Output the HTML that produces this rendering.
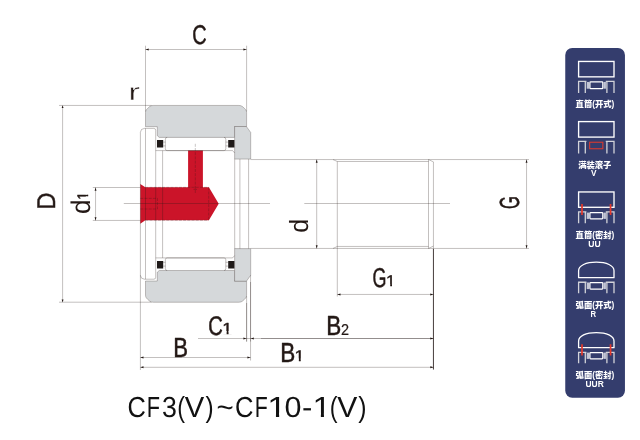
<!DOCTYPE html>
<html lang="zh-CN">
<head>
<meta charset="utf-8">
<title>CF3(V)~CF10-1(V)</title>
<style>
html,body{margin:0;padding:0;background:#fff;}
body{width:640px;height:440px;overflow:hidden;}
svg{display:block;will-change:transform;}
</style>
</head>
<body>
<svg width="640" height="440" viewBox="0 0 640 440">
<rect width="640" height="440" fill="#fff"/>
<path fill="#cb1429" d="M140.3 184 L145.3 187.2 H188.1 V150.4 H202.9 V187.2 H208.9 L218.7 203.7 L208.9 220.3 H145.3 L140.3 223.7 Z"/>
<path d="M145.5 112.6 C145.5 110.6 146.3 109.6 147.6 108.4 L149.6 106.6 C150.6 105.8 151.6 105.45 153.2 105.45 L238.9 105.45 C240.5 105.45 241.5 105.8 242.5 106.6 L244.5 108.4 C245.8 109.6 246.6 110.6 246.6 112.6 L246.6 126.5 L234.6 126.5 L234.6 137.4 L159.2 137.4 L157.3 135.7 L157.3 126.7 L145.5 126.7 Z" fill="#d5d8da" stroke="#231815" stroke-width="0.26" stroke-linejoin="round"/>
<path d="M145.5 295.1 C145.5 297.1 146.3 298.1 147.6 299.3 L149.6 301.1 C150.6 301.9 151.6 302.25 153.2 302.25 L238.9 302.25 C240.5 302.25 241.5 301.9 242.5 301.1 L244.5 299.3 C245.8 298.1 246.6 297.1 246.6 295.1 L246.6 281.2 L234.6 281.2 L234.6 270.5 L159.2 270.5 L157.3 272.2 L157.3 281 L145.5 281 Z" fill="#d5d8da" stroke="#231815" stroke-width="0.26" stroke-linejoin="round"/>
<path d="M234.6 126.5 L246.4 126.5 L250.7 132.4 L250.7 159.1 L234.6 159.1 Z" fill="#d5d8da" stroke="#231815" stroke-width="0.26" stroke-linejoin="round"/>
<path d="M234.6 281.2 L246.4 281.2 L250.7 275.3 L250.7 248.6 L234.6 248.6 Z" fill="#d5d8da" stroke="#231815" stroke-width="0.26" stroke-linejoin="round"/>
<path fill="none" stroke="#231815" stroke-width="0.28" d="M140.4 275.2 V132.3 Q140.6 128.6 144.4 128.4 H153.8 Q155.7 128.4 155.7 130.3 V277.3 Q155.7 279.2 153.8 279.2 H144.4 Q140.6 279 140.4 275.3 Z M145.5 128.4 L145.5 279.2 M162.6 150.6 L162.6 257.9 M155.7 150.6 L232.6 150.6 M155.7 257.9 L232.6 257.9 M232.6 150.6 L234.6 152.9 M232.6 257.9 L234.6 255.6 M234.7 159.1 L234.7 248.6 M239.9 159.1 L239.9 248.6 M248.6 159.1 L248.6 248.6 M167.15 137.4 Q165.35 137.4 165.35 139.2 L165.35 148.8 Q165.35 150.6 167.15 150.6 L224 150.6 Q225.8 150.6 225.8 148.8 L225.8 139.2 Q225.8 137.4 224 137.4 M163.2 142.1 L165.35 142.1 M225.8 142.1 L228.2 142.1 M163.2 145.9 L165.35 145.9 M225.8 145.9 L228.2 145.9 M167.15 270.5 Q165.35 270.5 165.35 268.7 L165.35 259.7 Q165.35 257.9 167.15 257.9 L224 257.9 Q225.8 257.9 225.8 259.7 L225.8 268.7 Q225.8 270.5 224 270.5 M163.2 262.3 L165.35 262.3 M225.8 262.3 L228.2 262.3 M163.2 266.1 L165.35 266.1 M225.8 266.1 L228.2 266.1 M250.7 159.55 L529 159.55 M250.7 248.45 L529 248.45 M337.3 161.5 L428.5 161.5 M337.3 246.45 L428.5 246.45 M333 159.55 L337.3 161.5 M333 248.45 L337.3 246.45 M428.5 159.55 L433.45 161.9 M428.5 248.45 L433.45 246.05 M428.5 159.55 L428.5 248.45 M433.45 161.9 L433.45 369.5 M337.3 161.5 L337.3 296.5 M123.8 203.5 L270 203.5 M304.3 203.5 L450 203.5 M145.5 45.7 L145.5 111.5 M246.6 45.7 L246.6 111.5 M145.5 49.5 L246.6 49.5 M59 105.45 L151.5 105.45 M59 302.2 L151.5 302.2 M62.6 105.45 L62.6 302.2 M92.8 187.5 L140.4 187.5 M92.8 220.45 L140.4 220.45 M95.55 187.5 L95.55 220.45 M316.7 159.55 L316.7 248.45 M526.55 159.55 L526.55 248.45 M337.3 294.45 L433.45 294.45 M198 338.5 L433.45 338.5 M140.4 357.5 L250.55 357.5 M140.4 367.3 L433.45 367.3 M140.4 275.2 L140.4 370 M246.6 296.2 L246.6 341.7 M250.55 275.3 L250.55 360.5"/>
<path fill="none" stroke="#231815" stroke-width="0.75" d="M433.45 249 V369.5"/>
<path fill="none" stroke="#231815" stroke-width="0.3" d="M250.55 282 V341.5 M261 338.5 H433 M246.6 303 V341.5"/>
<path fill="none" stroke="#231815" stroke-width="0.25" stroke-dasharray="3 1.2" d="M195.3 143.8 V193 M208.7 187.3 V220.3 M140.3 198.4 H157.5 V209 H140.3 M145.3 187.3 H208.7 M145.3 220.3 H208.7"/>
<path fill="none" stroke="#231815" stroke-width="0.28" d="M193.5 189.4 H197"/>
<rect x="157" y="140" width="6.2" height="7.5" fill="#1f1a19"/>
<rect x="228.2" y="140" width="6.2" height="7.5" fill="#1f1a19"/>
<rect x="157" y="261" width="6.2" height="7.5" fill="#1f1a19"/>
<rect x="228.2" y="261" width="6.2" height="7.5" fill="#1f1a19"/>
<path fill="#231815" d="M145.5 49.5 L148.7 48.55 L148.7 50.45Z M246.6 49.5 L243.4 48.55 L243.4 50.45Z M62.6 105.45 L61.65 108.05 L63.55 108.05Z M62.6 302.2 L61.65 299.6 L63.55 299.6Z M95.55 187.5 L94.6 190.7 L96.5 190.7Z M95.55 220.45 L94.6 217.25 L96.5 217.25Z M316.7 159.55 L315.75 162.75 L317.65 162.75Z M316.7 248.45 L315.75 245.25 L317.65 245.25Z M526.55 159.55 L525.6 162.75 L527.5 162.75Z M526.55 248.45 L525.6 245.25 L527.5 245.25Z M337.3 294.45 L340.5 293.5 L340.5 295.4Z M433.45 294.45 L430.25 293.5 L430.25 295.4Z M246.6 338.5 L243.4 337.55 L243.4 339.45Z M250.6 338.5 L253.8 337.55 L253.8 339.45Z M433.5 338.5 L430.3 337.55 L430.3 339.45Z M140.3 357.5 L143.5 356.55 L143.5 358.45Z M250.6 357.5 L247.4 356.55 L247.4 358.45Z M140.3 367.3 L143.5 366.35 L143.5 368.25Z M433.5 367.3 L430.3 366.35 L430.3 368.25Z"/>
<clipPath id="k1" clipPathUnits="userSpaceOnUse"><path clip-rule="evenodd" d="M-700 -700 H700 V700 H-700 Z M-199.35 85.82 H-196.2 V89.48 H-199.35 Z M-194.7 85.82 H-191.71 V89.48 H-194.7 Z"/></clipPath><clipPath id="k2" clipPathUnits="userSpaceOnUse"><path clip-rule="evenodd" d="M-700 -700 H700 V700 H-700 Z M386.43 283.91 H390.24 V287.57 H386.43 Z M392 283.91 H395.62 V287.57 H392 Z"/></clipPath><clipPath id="k3" clipPathUnits="userSpaceOnUse"><path clip-rule="evenodd" d="M-700 -700 H700 V700 H-700 Z M222.67 331.07 H226.67 V334.77 H222.67 Z M228.5 331.07 H232.3 V334.77 H228.5 Z"/></clipPath><clipPath id="k4" clipPathUnits="userSpaceOnUse"><path clip-rule="evenodd" d="M-700 -700 H700 V700 H-700 Z M294.87 358.62 H298.87 V362.27 H294.87 Z M300.69 358.62 H304.5 V362.27 H300.69 Z"/></clipPath>
<g font-family="'Liberation Sans', sans-serif" fill="#231815" stroke="#231815" stroke-linejoin="round" text-rendering="geometricPrecision"><text><tspan x="192.34" y="44.38" font-size="27.12" textLength="14.37" lengthAdjust="spacingAndGlyphs" stroke-width="0.5">C</tspan></text>
<text><tspan x="128.36" y="99.65" font-size="24.34" textLength="11.99" lengthAdjust="spacingAndGlyphs" stroke="#fff" stroke-width="0.5">r</tspan></text>
<text transform="rotate(-90)"><tspan x="-209.47" y="54.65" font-size="25.44" textLength="16.95" lengthAdjust="spacingAndGlyphs" stroke-width="0.5">D</tspan></text>
<text transform="rotate(-90)" clip-path="url(#k1)"><tspan x="-214.09" y="89.94" font-size="26.96" textLength="14.47" lengthAdjust="spacingAndGlyphs" stroke-width="0">d</tspan><tspan x="-199.63" y="88.28" font-size="15.33" textLength="7.86" lengthAdjust="spacingAndGlyphs" stroke-width="0.45">1</tspan></text>
<text transform="rotate(-90)"><tspan x="-232.86" y="308.04" font-size="26.28" textLength="13.98" lengthAdjust="spacingAndGlyphs" stroke-width="0">d</tspan></text>
<text transform="rotate(-90)"><tspan x="-209.08" y="519.48" font-size="27.68" textLength="12.87" lengthAdjust="spacingAndGlyphs" stroke-width="0.5">G</tspan></text>
<text clip-path="url(#k2)"><tspan x="372.45" y="287.48" font-size="27.4" textLength="13.94" lengthAdjust="spacingAndGlyphs" stroke-width="0.5">G</tspan><tspan x="386.09" y="286.38" font-size="15.48" textLength="9.46" lengthAdjust="spacingAndGlyphs" stroke-width="0.45">1</tspan></text>
<text clip-path="url(#k3)"><tspan x="208.22" y="335.19" font-size="26.98" textLength="14.6" lengthAdjust="spacingAndGlyphs" stroke-width="0.5">C</tspan><tspan x="222.31" y="333.57" font-size="16.06" textLength="9.92" lengthAdjust="spacingAndGlyphs" stroke-width="0.45">1</tspan></text>
<text><tspan x="173.13" y="356.55" font-size="27.76" textLength="14.79" lengthAdjust="spacingAndGlyphs" stroke-width="0.5">B</tspan></text>
<text clip-path="url(#k4)"><tspan x="280.2" y="362.25" font-size="27.47" textLength="15.04" lengthAdjust="spacingAndGlyphs" stroke-width="0.5">B</tspan><tspan x="294.51" y="361.07" font-size="15.33" textLength="9.92" lengthAdjust="spacingAndGlyphs" stroke-width="0.45">1</tspan></text>
<text><tspan x="326.2" y="335.25" font-size="27.47" textLength="15.04" lengthAdjust="spacingAndGlyphs" stroke-width="0.5">B</tspan><tspan x="340.97" y="334.9" font-size="15.61" textLength="8.06" lengthAdjust="spacingAndGlyphs" stroke-width="0.2">2</tspan></text></g>
<clipPath id="tclip" clipPathUnits="userSpaceOnUse"><path clip-rule="evenodd" d="M100 380 H400 V435 H100 Z M267.6 412.72 H275.95 V417.5 H267.6 Z M279.15 412.72 H286.1 V417.5 H279.15 Z M312.7 412.72 H320.86 V417.5 H312.7 Z M323.95 412.72 H330.9 V417.5 H323.95 Z"/></clipPath>
<text y="416.5" font-family="'Liberation Sans', sans-serif" font-size="29" fill="#111" clip-path="url(#tclip)" text-rendering="geometricPrecision"><tspan x="127.41" textLength="18.36" lengthAdjust="spacingAndGlyphs">C</tspan><tspan x="146.82" textLength="13.25" lengthAdjust="spacingAndGlyphs">F</tspan><tspan x="161.88" textLength="14.9" lengthAdjust="spacingAndGlyphs">3</tspan><tspan x="177.35" textLength="7.79" lengthAdjust="spacingAndGlyphs">(</tspan><tspan x="184.87" textLength="19.46" lengthAdjust="spacingAndGlyphs">V</tspan><tspan x="205.46" textLength="8.16" lengthAdjust="spacingAndGlyphs">)</tspan><tspan x="216.43" textLength="17.19" lengthAdjust="spacingAndGlyphs">~</tspan><tspan x="235.1" textLength="18.47" lengthAdjust="spacingAndGlyphs">C</tspan><tspan x="254.66" textLength="13" lengthAdjust="spacingAndGlyphs">F</tspan><tspan x="267.26" textLength="19.38" lengthAdjust="spacingAndGlyphs">1</tspan><tspan x="284.41" textLength="16.99" lengthAdjust="spacingAndGlyphs">0</tspan><tspan x="301.92" textLength="10.36" lengthAdjust="spacingAndGlyphs">-</tspan><tspan x="312.47" textLength="18.69" lengthAdjust="spacingAndGlyphs">1</tspan><tspan x="329.65" textLength="7.79" lengthAdjust="spacingAndGlyphs">(</tspan><tspan x="337.37" textLength="20.06" lengthAdjust="spacingAndGlyphs">V</tspan><tspan x="358.25" textLength="8.29" lengthAdjust="spacingAndGlyphs">)</tspan></text>
<rect x="565.25" y="48" width="59.7" height="349.7" rx="7" ry="7" fill="#343d6d"/>
<rect x="578.6" y="61.45" width="35.4" height="15.4" fill="none" stroke="#fff" stroke-width="1.35"/>
<path d="M578.6 92.9 V81.3 H586.45 M585.3 81.3 V92.9 M606.9 81.3 V92.9 M605.75 81.3 H614 V92.9" fill="none" stroke="#d2d3d9" stroke-width="1.3"/>
<rect x="586.7" y="81.95" width="2.3" height="6.75" fill="#c3c6d5"/><rect x="603.6" y="81.95" width="2.3" height="6.75" fill="#c3c6d5"/><rect x="589.9" y="81.95" width="12.9" height="6.75" rx="0.8" ry="0.8" fill="none" stroke="#fff" stroke-width="1.25"/>
<rect x="578.6" y="121.6" width="35.4" height="15.5" fill="none" stroke="#fff" stroke-width="1.35"/>
<path d="M578.6 153.5 V141.4 H586.45 M585.3 141.4 V153.5 M606.9 141.4 V153.5 M605.75 141.4 H614 V153.5" fill="none" stroke="#d2d3d9" stroke-width="1.3"/>
<rect x="589.65" y="142.25" width="13.2" height="6.5" fill="none" stroke="#d63a30" stroke-width="1.1"/>
<rect x="578.6" y="191.95" width="35.4" height="15.35" fill="none" stroke="#fff" stroke-width="1.35"/>
<path d="M578.6 223.3 V211.85 H586.45 M585.3 211.85 V223.3 M606.9 211.85 V223.3 M605.75 211.85 H614 V223.3" fill="none" stroke="#d2d3d9" stroke-width="1.3"/>
<rect x="586.7" y="212.6" width="2.3" height="6.3" fill="#c3c6d5"/><rect x="603.6" y="212.6" width="2.3" height="6.3" fill="#c3c6d5"/><rect x="589.9" y="212.6" width="12.9" height="6.3" rx="0.8" ry="0.8" fill="none" stroke="#fff" stroke-width="1.25"/>
<path d="M582 204 V214.9 M610.55 204 V214.9" stroke="#e5392b" stroke-width="1.7" fill="none"/>
<path d="M578.6 277.65 V270.75 C578.6 265.55 586 262.15 596.3 262.15 C606.6 262.15 614 265.55 614 270.75 V277.65 Z" fill="none" stroke="#fff" stroke-width="1.3" stroke-linejoin="round"/>
<path d="M578.6 293.3 V282.25 H586.45 M585.3 282.25 V293.3 M606.9 282.25 V293.3 M605.75 282.25 H614 V293.3" fill="none" stroke="#d2d3d9" stroke-width="1.3"/>
<rect x="586.7" y="282.5" width="2.3" height="6.6" fill="#c3c6d5"/><rect x="603.6" y="282.5" width="2.3" height="6.6" fill="#c3c6d5"/><rect x="589.9" y="282.5" width="12.9" height="6.6" rx="0.8" ry="0.8" fill="none" stroke="#fff" stroke-width="1.25"/>
<path d="M578.6 347.65 V341.15 C578.6 335.95 586 332.55 596.3 332.55 C606.6 332.55 614 335.95 614 341.15 V347.65 Z" fill="none" stroke="#fff" stroke-width="1.3" stroke-linejoin="round"/>
<path d="M578.6 363.3 V352.35 H586.45 M585.3 352.35 V363.3 M606.9 352.35 V363.3 M605.75 352.35 H614 V363.3" fill="none" stroke="#d2d3d9" stroke-width="1.3"/>
<rect x="586.7" y="352.6" width="2.3" height="6.3" fill="#c3c6d5"/><rect x="603.6" y="352.6" width="2.3" height="6.3" fill="#c3c6d5"/><rect x="589.9" y="352.6" width="12.9" height="6.3" rx="0.8" ry="0.8" fill="none" stroke="#fff" stroke-width="1.25"/>
<path d="M582 344.2 V355.5 M610.55 344.2 V355.5" stroke="#e5392b" stroke-width="1.7" fill="none"/>
<g font-family="'Liberation Sans', 'Noto Sans CJK SC', sans-serif" font-weight="900" fill="#fff"><text x="594.95" y="106.65" text-anchor="middle" font-size="8.3">直筒(开式)</text>
<text x="594.8" y="167.75" text-anchor="middle" font-size="8.3">满装滚子</text>
<text transform="translate(591.04 176.3) scale(0.8264 0.9448)" font-size="10">V</text>
<text x="594.95" y="238.15" text-anchor="middle" font-size="8.3">直筒(密封)</text>
<text transform="translate(588.23 247.16) scale(0.8578 0.9673)" font-size="10">UU</text>
<text x="594.95" y="308.15" text-anchor="middle" font-size="8.3">弧面(开式)</text>
<text transform="translate(590.38 317.25) scale(0.7719 0.9375)" font-size="10">R</text>
<text x="594.95" y="378.15" text-anchor="middle" font-size="8.3">弧面(密封)</text>
<text transform="translate(585.49 387.16) scale(0.8437 0.9673)" font-size="10">UUR</text></g>
</svg>
</body>
</html>
